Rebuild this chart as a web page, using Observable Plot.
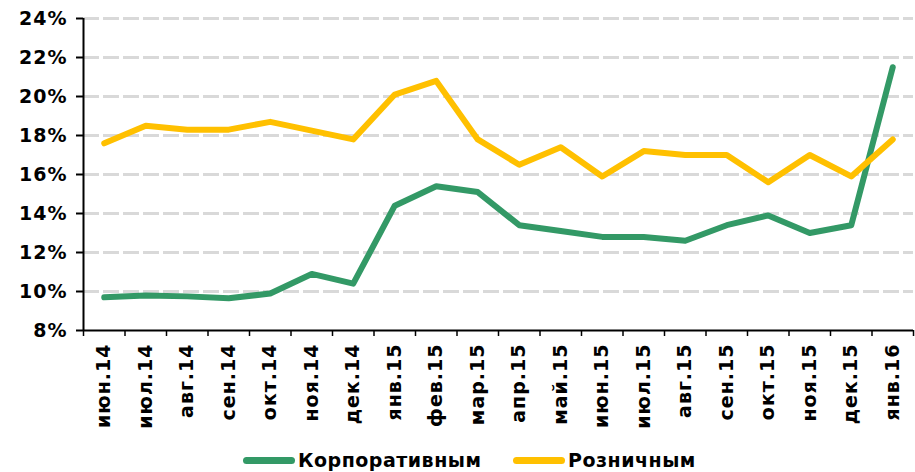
<!DOCTYPE html>
<html>
<head>
<meta charset="utf-8">
<script src="https://cdn.jsdelivr.net/npm/d3@7"></script>
<script src="https://cdn.jsdelivr.net/npm/@observablehq/plot@0.6"></script>
<style>
  html, body { margin: 0; padding: 0; background: #fff; }
  #chart svg { display: block; }
  .legend { height: 24px; position: relative; font-family: "DejaVu Sans", sans-serif; font-weight: bold; font-size: 19px; color: #000; letter-spacing: 0.5px; }
  .legend .item { position: absolute; top: 0; display: flex; align-items: center; height: 24px; }
  .legend .sw { width: 52px; height: 7px; border-radius: 4px; margin-right: 3px; }
</style>
</head>
<body>
<div id="chart"></div>
<div class="legend" id="legend"></div>
<script>
const months = ["июн.14","июл.14","авг.14","сен.14","окт.14","ноя.14","дек.14","янв.15","фев.15","мар.15","апр.15","май.15","июн.15","июл.15","авг.15","сен.15","окт.15","ноя.15","дек.15","янв.16"];
const corporate = [9.7, 9.8, 9.75, 9.65, 9.9, 10.9, 10.4, 14.4, 15.4, 15.1, 13.4, 13.1, 12.8, 12.8, 12.6, 13.4, 13.9, 13.0, 13.4, 21.5];
const retail = [17.6, 18.5, 18.3, 18.3, 18.7, 18.25, 17.8, 20.1, 20.8, 17.8, 16.5, 17.4, 15.9, 17.2, 17.0, 17.0, 15.6, 17.0, 15.9, 17.8];
const yTicks = [8, 10, 12, 14, 16, 18, 20, 22, 24];
const seriesNames = ["Корпоративным", "Розничным"];
const seriesColors = ["#339966", "#FFC000"];

const rows = (vals) => vals.map((v, i) => ({i: i + 0.5, v}));

const chart = Plot.plot({
  width: 915,
  height: 448,
  marginLeft: 83,
  marginRight: 2,
  marginTop: 18,
  marginBottom: 118,
  x: {domain: [0, months.length], label: null},
  y: {domain: [8, 24], label: null},
  style: {fontFamily: "DejaVu Sans, sans-serif", fontWeight: "bold", fontSize: "19px", color: "#000", letterSpacing: "1px", background: "#fff"},
  marks: [
    Plot.ruleY(yTicks.slice(1), {stroke: "#d9d9d9", strokeWidth: 3, strokeDasharray: "16,4"}),
    Plot.line(rows(corporate), {x: "i", y: "v", stroke: seriesColors[0], strokeWidth: 6, strokeLinejoin: "round", strokeLinecap: "round"}),
    Plot.line(rows(retail), {x: "i", y: "v", stroke: seriesColors[1], strokeWidth: 6, strokeLinejoin: "round", strokeLinecap: "round"}),
    Plot.axisY(yTicks, {tickSize: 7, tickPadding: 9, tickFormat: d => d + "%", strokeWidth: 2, label: null}),
    Plot.axisX(d3.range(months.length + 1), {tickSize: 6, tickFormat: () => "", strokeWidth: 1.5, label: null}),
    Plot.axisX(months.map((m, i) => i + 0.5), {tickSize: 0, tickPadding: 13, tickRotate: -90, tickFormat: d => months[Math.round(d - 0.5)], label: null}),
    Plot.ruleY([8], {stroke: "#000", strokeWidth: 2}),
    Plot.ruleX([0], {stroke: "#000", strokeWidth: 2})
  ]
});
document.getElementById("chart").appendChild(chart);

const legend = document.getElementById("legend");
const lefts = [243, 513];
seriesNames.forEach((name, k) => {
  const it = document.createElement("div");
  it.className = "item";
  it.style.left = lefts[k] + "px";
  const sw = document.createElement("span");
  sw.className = "sw";
  sw.style.background = seriesColors[k];
  const tx = document.createElement("span");
  tx.textContent = name;
  it.appendChild(sw);
  it.appendChild(tx);
  legend.appendChild(it);
});
</script>
</body>
</html>
